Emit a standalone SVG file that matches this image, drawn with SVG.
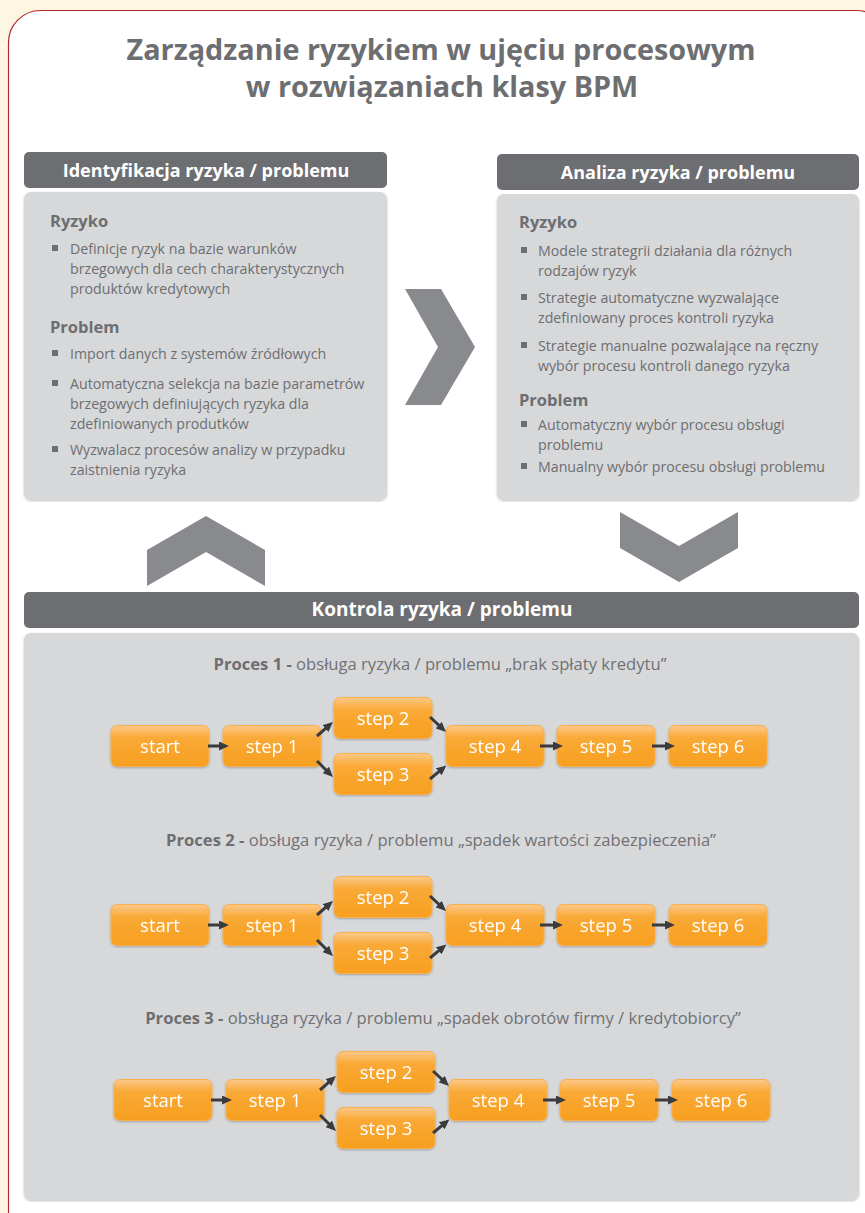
<svg xmlns="http://www.w3.org/2000/svg" width="865" height="1213" viewBox="0 0 865 1213">
<defs>
<style>
text{font-family:"Open Sans","Liberation Sans",sans-serif}
.title{font-size:28.8px;font-weight:bold;fill:#6d6e71;text-anchor:middle}
.hdr{fill:#6d6e71}
.hdrt{font-size:18px;font-weight:bold;fill:#fff;text-anchor:middle}
.panel{fill:#d7d8da}
.sub{font-size:16.5px;font-weight:bold;fill:#6d6e71}
.body{font-size:14.2px;fill:#6d6e71}
.bul{fill:#6d6e71}
.chev{fill:#898a8d}
.plabel{font-size:16.6px;fill:#707174;text-anchor:middle}
.plabel .b{font-weight:bold;fill:#6d6e71}
.step rect{fill:url(#og);stroke:#f9b04d;stroke-width:1}
.step text{font-size:18.5px;fill:#fff;text-anchor:middle}
.conn line{stroke:#3b3b3d;stroke-width:3;marker-end:url(#ah)}
</style>
<linearGradient id="og" x1="0" y1="0" x2="0" y2="1">
<stop offset="0" stop-color="#fcc98a"/>
<stop offset="0.3" stop-color="#f9a936"/>
<stop offset="1" stop-color="#f79f20"/>
</linearGradient>
<filter id="sh" x="-10%" y="-10%" width="120%" height="130%">
<feDropShadow dx="0" dy="1" stdDeviation="1" flood-color="#000" flood-opacity="0.25"/>
</filter>
<marker id="ah" viewBox="0 0 10 9" refX="3" refY="4.5" markerWidth="10" markerHeight="9" markerUnits="userSpaceOnUse" orient="auto">
<path d="M0,0 L10,4.5 L0,9 z" fill="#3b3b3d"/>
</marker>
</defs>
<rect x="0" y="0" width="865" height="1213" fill="#fdf6e3"/>
<rect x="8.5" y="10.5" width="880" height="1240" rx="32" fill="#fff" stroke="#b5262a" stroke-width="1.2"/>

<g id="title">
<text class="title" x="441" y="60">Zarządzanie ryzykiem w ujęciu procesowym</text>
<text class="title" x="442" y="97">w rozwiązaniach klasy BPM</text>
</g>

<g id="identyfikacja">
<rect class="hdr" x="24" y="152" width="363" height="36" rx="5"/>
<text class="hdrt" x="206" y="177">Identyfikacja ryzyka / problemu</text>
<rect class="panel" x="24" y="192" width="363" height="308" rx="7" filter="url(#sh)"/>
<text class="sub" x="50" y="227">Ryzyko</text>
<rect class="bul" x="52" y="245" width="6" height="6"/>
<text class="body" x="70" y="254">Definicje ryzyk na bazie warunków</text>
<text class="body" x="70" y="274">brzegowych dla cech charakterystycznych</text>
<text class="body" x="70" y="294">produktów kredytowych</text>
<text class="sub" x="50" y="333">Problem</text>
<rect class="bul" x="52" y="350" width="6" height="6"/>
<text class="body" x="70" y="359">Import danych z systemów źródłowych</text>
<rect class="bul" x="52" y="380" width="6" height="6"/>
<text class="body" x="70" y="389">Automatyczna selekcja na bazie parametrów</text>
<text class="body" x="70" y="409">brzegowych definiujących ryzyka dla</text>
<text class="body" x="70" y="429">zdefiniowanych produtków</text>
<rect class="bul" x="52" y="446" width="6" height="6"/>
<text class="body" x="70" y="455">Wyzwalacz procesów analizy w przypadku</text>
<text class="body" x="70" y="475">zaistnienia ryzyka</text>
</g>

<g id="analiza">
<rect class="hdr" x="497" y="154" width="362" height="36" rx="5"/>
<text class="hdrt" x="678" y="179">Analiza ryzyka / problemu</text>
<rect class="panel" x="497" y="194" width="362" height="306" rx="7" filter="url(#sh)"/>
<text class="sub" x="519" y="228">Ryzyko</text>
<rect class="bul" x="521" y="247" width="6" height="6"/>
<text class="body" x="538" y="256">Modele strategrii działania dla różnych</text>
<text class="body" x="538" y="276">rodzajów ryzyk</text>
<rect class="bul" x="521" y="294" width="6" height="6"/>
<text class="body" x="538" y="303">Strategie automatyczne wyzwalające</text>
<text class="body" x="538" y="323">zdefiniowany proces kontroli ryzyka</text>
<rect class="bul" x="521" y="342" width="6" height="6"/>
<text class="body" x="538" y="351">Strategie manualne pozwalające na ręczny</text>
<text class="body" x="538" y="371">wybór procesu kontroli danego ryzyka</text>
<text class="sub" x="519" y="406">Problem</text>
<rect class="bul" x="521" y="421" width="6" height="6"/>
<text class="body" x="538" y="430">Automatyczny wybór procesu obsługi</text>
<text class="body" x="538" y="450">problemu</text>
<rect class="bul" x="521" y="463" width="6" height="6"/>
<text class="body" x="538" y="472">Manualny wybór procesu obsługi problemu</text>
</g>

<g id="chevrons">
<polygon class="chev" points="405,289 441,289 475,347 441,405 405,405 438,347"/>
<polygon class="chev" points="206,516 265,550 265,586 206,552 147,586 147,550"/>
<polygon class="chev" points="620,512 679,546 738,512 738,548 679,582 620,548"/>
</g>

<g id="kontrola">
<rect class="hdr" x="24" y="592" width="835" height="36" rx="5"/>
<text class="hdrt" x="442" y="616" style="font-size:19px">Kontrola ryzyka / problemu</text>
<rect class="panel" x="24" y="633" width="835" height="567" rx="7" filter="url(#sh)"/>
<text class="plabel" x="440" y="670"><tspan class="b">Proces 1 -</tspan> obsługa ryzyka / problemu „brak spłaty kredytu”</text>
<text class="plabel" x="441" y="846"><tspan class="b">Proces 2 -</tspan> obsługa ryzyka / problemu „spadek wartości zabezpieczenia”</text>
<text class="plabel" x="443" y="1024"><tspan class="b">Proces 3 -</tspan> obsługa ryzyka / problemu „spadek obrotów firmy / kredytobiorcy”</text>
</g>

<g id="proces1" transform="translate(0,746)">
<g id="p1-start" class="step" filter="url(#sh)"><rect x="111" y="-20.5" width="98" height="41" rx="6"/><text x="160" y="7">start</text></g>
<g id="p1-step1" class="step" filter="url(#sh)"><rect x="223" y="-20.5" width="98" height="41" rx="6"/><text x="272" y="7">step 1</text></g>
<g id="p1-step2" class="step" filter="url(#sh)"><rect x="334" y="-48.5" width="98" height="41" rx="6"/><text x="383" y="-21">step 2</text></g>
<g id="p1-step3" class="step" filter="url(#sh)"><rect x="334" y="7.5" width="98" height="41" rx="6"/><text x="383" y="35">step 3</text></g>
<g id="p1-step4" class="step" filter="url(#sh)"><rect x="446" y="-20.5" width="98" height="41" rx="6"/><text x="495" y="7">step 4</text></g>
<g id="p1-step5" class="step" filter="url(#sh)"><rect x="557" y="-20.5" width="98" height="41" rx="6"/><text x="606" y="7">step 5</text></g>
<g id="p1-step6" class="step" filter="url(#sh)"><rect x="669" y="-20.5" width="98" height="41" rx="6"/><text x="718" y="7">step 6</text></g>
</g>

<g id="proces2" transform="translate(0,925)">
<g id="p2-start" class="step" filter="url(#sh)"><rect x="111" y="-20.5" width="98" height="41" rx="6"/><text x="160" y="7">start</text></g>
<g id="p2-step1" class="step" filter="url(#sh)"><rect x="223" y="-20.5" width="98" height="41" rx="6"/><text x="272" y="7">step 1</text></g>
<g id="p2-step2" class="step" filter="url(#sh)"><rect x="334" y="-48.5" width="98" height="41" rx="6"/><text x="383" y="-21">step 2</text></g>
<g id="p2-step3" class="step" filter="url(#sh)"><rect x="334" y="7.5" width="98" height="41" rx="6"/><text x="383" y="35">step 3</text></g>
<g id="p2-step4" class="step" filter="url(#sh)"><rect x="446" y="-20.5" width="98" height="41" rx="6"/><text x="495" y="7">step 4</text></g>
<g id="p2-step5" class="step" filter="url(#sh)"><rect x="557" y="-20.5" width="98" height="41" rx="6"/><text x="606" y="7">step 5</text></g>
<g id="p2-step6" class="step" filter="url(#sh)"><rect x="669" y="-20.5" width="98" height="41" rx="6"/><text x="718" y="7">step 6</text></g>
</g>

<g id="proces3" transform="translate(3,1100)">
<g id="p3-start" class="step" filter="url(#sh)"><rect x="111" y="-20.5" width="98" height="41" rx="6"/><text x="160" y="7">start</text></g>
<g id="p3-step1" class="step" filter="url(#sh)"><rect x="223" y="-20.5" width="98" height="41" rx="6"/><text x="272" y="7">step 1</text></g>
<g id="p3-step2" class="step" filter="url(#sh)"><rect x="334" y="-48.5" width="98" height="41" rx="6"/><text x="383" y="-21">step 2</text></g>
<g id="p3-step3" class="step" filter="url(#sh)"><rect x="334" y="7.5" width="98" height="41" rx="6"/><text x="383" y="35">step 3</text></g>
<g id="p3-step4" class="step" filter="url(#sh)"><rect x="446" y="-20.5" width="98" height="41" rx="6"/><text x="495" y="7">step 4</text></g>
<g id="p3-step5" class="step" filter="url(#sh)"><rect x="557" y="-20.5" width="98" height="41" rx="6"/><text x="606" y="7">step 5</text></g>
<g id="p3-step6" class="step" filter="url(#sh)"><rect x="669" y="-20.5" width="98" height="41" rx="6"/><text x="718" y="7">step 6</text></g>
</g>

<g id="connectors" class="conn">
<g transform="translate(0,746)">
<line x1="208" y1="0" x2="222" y2="0"/>
<line x1="317" y1="-10" x2="327.7" y2="-19.4"/>
<line x1="317" y1="15" x2="328" y2="26"/>
<line x1="430" y1="-29" x2="440.9" y2="-18.8"/>
<line x1="430" y1="33" x2="441" y2="23.9"/>
<line x1="540" y1="0" x2="556" y2="0"/>
<line x1="652" y1="0" x2="668" y2="0"/>
</g>
<g transform="translate(0,925)">
<line x1="208" y1="0" x2="222" y2="0"/>
<line x1="317" y1="-10" x2="327.7" y2="-19.4"/>
<line x1="317" y1="15" x2="328" y2="26"/>
<line x1="430" y1="-29" x2="440.9" y2="-18.8"/>
<line x1="430" y1="33" x2="441" y2="23.9"/>
<line x1="540" y1="0" x2="556" y2="0"/>
<line x1="652" y1="0" x2="668" y2="0"/>
</g>
<g transform="translate(3,1100)">
<line x1="208" y1="0" x2="222" y2="0"/>
<line x1="317" y1="-10" x2="327.7" y2="-19.4"/>
<line x1="317" y1="15" x2="328" y2="26"/>
<line x1="430" y1="-29" x2="440.9" y2="-18.8"/>
<line x1="430" y1="33" x2="441" y2="23.9"/>
<line x1="540" y1="0" x2="556" y2="0"/>
<line x1="652" y1="0" x2="668" y2="0"/>
</g>
</g>
</svg>
